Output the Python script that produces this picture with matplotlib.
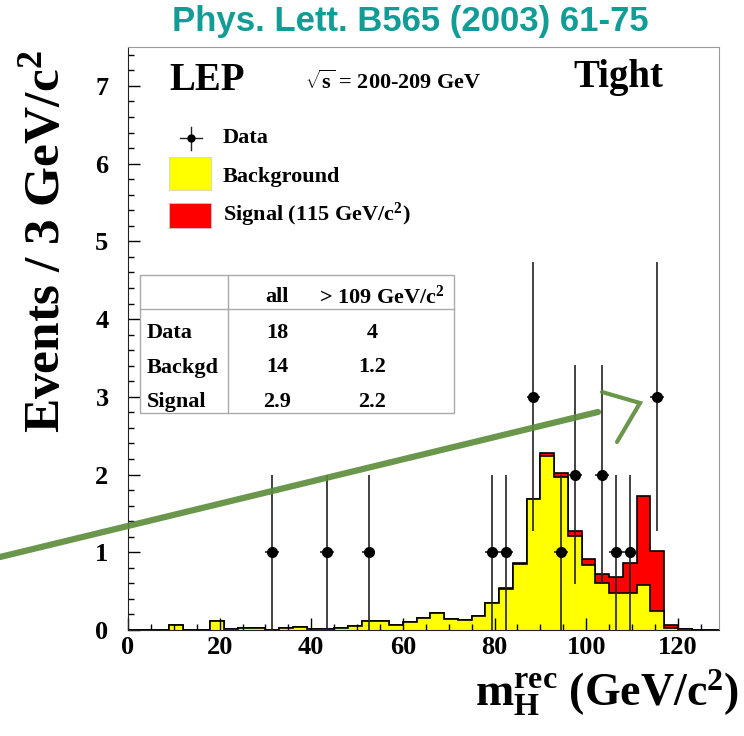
import numpy as np
import matplotlib
matplotlib.use("Agg")
import matplotlib.pyplot as plt
from matplotlib.lines import Line2D
from matplotlib.patches import Rectangle
from matplotlib.ticker import MultipleLocator

plt.rcParams['font.family'] = ['Liberation Serif', 'DejaVu Serif']
plt.rcParams['font.weight'] = 'bold'
plt.rcParams['mathtext.fontset'] = 'custom'
plt.rcParams['mathtext.rm'] = 'Liberation Serif:bold'
plt.rcParams['mathtext.bf'] = 'Liberation Serif:bold'
plt.rcParams['mathtext.it'] = 'Liberation Serif:bold'

# 3 GeV bins from 0 to 129 GeV/c^2
bin_edges = np.arange(0, 130, 3)
background = [0, 0, 0, 0.06, 0.005, 0.005, 0.11, 0.01, 0.03, 0.02,
              0.005, 0.03, 0.04, 0.01, 0.015, 0.03, 0.05, 0.11, 0.11, 0.06,
              0.10, 0.15, 0.22, 0.14, 0.13, 0.18, 0.35, 0.53, 0.85, 1.68,
              2.24, 1.97, 1.21, 0.83, 0.60, 0.48, 0.48, 0.58, 0.24, 0.02,
              0.01, 0.005, 0.0]
signal = [0, 0, 0, 0, 0, 0, 0, 0, 0, 0,
          0, 0, 0, 0, 0, 0, 0, 0, 0, 0,
          0, 0, 0, 0, 0, 0, 0, 0.005, 0.01, 0.01,
          0.04, 0.05, 0.06, 0.08, 0.12, 0.20, 0.38, 1.14, 0.78, 0.04,
          0, 0, 0]

data_mass = [31.5, 43.5, 52.5, 79.5, 82.5, 88.5, 94.5, 97.5, 103.5, 106.5, 109.5, 115.5]
data_counts = [1, 1, 1, 1, 1, 3, 1, 2, 2, 1, 1, 3]

table_rows = ["Data", "Backgd", "Signal"]
table_all = ["18", "14", "2.9"]
table_high = ["4", "1.2", "2.2"]

W, H = 744, 736


def fx(px):
    return px / W


def fy(py):
    return 1 - py / H


fig = plt.figure(figsize=(W / 100, H / 100), dpi=100)
ax = fig.add_axes([fx(128), fy(630), (719 - 128) / W, (630 - 47) / H])

bg = np.array(background)
total = bg + np.array(signal)
ax.stairs(total, bin_edges, fill=True, color='#ff0000', lw=0)
ax.stairs(total, bin_edges, color='black', lw=1.2)
ax.stairs(bg, bin_edges, fill=True, color='#ffff00', lw=0)
ax.stairs(bg, bin_edges, color='black', lw=1.2)

n = np.array(data_counts, dtype=float)
err = np.sqrt(n)
ax.errorbar(data_mass, n, yerr=[np.minimum(err, n), err], xerr=1.5, fmt='o',
            color='black', ecolor='#222222', ms=7, elinewidth=1.2, capsize=0, zorder=5)

ax.set_xlim(0, 129)
ax.set_ylim(0, 7.5)
ax.xaxis.set_major_locator(MultipleLocator(20))
ax.xaxis.set_minor_locator(MultipleLocator(5))
ax.yaxis.set_major_locator(MultipleLocator(1))
ax.yaxis.set_minor_locator(MultipleLocator(0.2))
ax.tick_params(which='both', direction='in', labelsize=19)
ax.tick_params(which='major', length=8.5, width=1)
ax.tick_params(which='minor', length=4.3, width=1)
ax.tick_params(axis='y', pad=14)
ax.tick_params(axis='x', pad=4)
for lab in ax.get_xticklabels() + ax.get_yticklabels():
    lab.set_fontweight('bold')
for side in ['top', 'right']:
    ax.spines[side].set_color('#999999')
for side in ['left', 'bottom']:
    ax.spines[side].set_color('#222222')

# texts inside the frame
fig.text(fx(169), fy(80), "LEP", fontsize=28, va='center', ha='left')
fig.text(fx(305), fy(82), r"$\sqrt{s}$ = 200-209 GeV", fontsize=16, va='center', ha='left')
fig.text(fx(573), fy(78), "Tight", fontsize=28, va='center', ha='left')

# legend
fig.add_artist(Line2D([fx(180), fx(202)], [fy(138), fy(138)], color='#222222', lw=1))
fig.add_artist(Line2D([fx(191), fx(191)], [fy(127), fy(150)], color='#222222', lw=1))
fig.add_artist(Line2D([fx(191)], [fy(138)], marker='o', ms=5, color='black'))
fig.add_artist(Rectangle((fx(169), fy(190)), 42 / W, 33 / H, transform=fig.transFigure,
                         facecolor='#ffff00', edgecolor='#cccccc', lw=0.5))
fig.add_artist(Rectangle((fx(169), fy(228)), 42 / W, 25 / H, transform=fig.transFigure,
                         facecolor='#ff0000', edgecolor='#cccccc', lw=0.5))
fig.text(fx(223), fy(138), "Data", fontsize=16, va='center', ha='left')
fig.text(fx(223), fy(177), "Background", fontsize=16, va='center', ha='left')
fig.text(fx(223), fy(215), r"Signal (115 GeV/c$^{2}$)", fontsize=16, va='center', ha='left')

# summary table
fig.add_artist(Rectangle((fx(140), fy(413)), (454 - 140) / W, (413 - 275) / H,
                         transform=fig.transFigure, facecolor='white',
                         edgecolor='#aaaaaa', lw=1))
fig.add_artist(Line2D([fx(228), fx(228)], [fy(275), fy(413)], color='#aaaaaa', lw=1))
fig.add_artist(Line2D([fx(140), fx(454)], [fy(309), fy(309)], color='#aaaaaa', lw=1))
fig.text(fx(277), fy(297), "all", fontsize=16, va='center', ha='center')
fig.text(fx(382), fy(297), r"> 109 GeV/c$^{2}$", fontsize=16, va='center', ha='center')
for i, (row, a, h) in enumerate(zip(table_rows, table_all, table_high)):
    y = fy(333 + 34.5 * i)
    fig.text(fx(147), y, row, fontsize=16, va='center', ha='left')
    fig.text(fx(277), y, a, fontsize=16, va='center', ha='center')
    fig.text(fx(372), y, h, fontsize=16, va='center', ha='center')

# axis titles
fig.text(fx(47), fy(242), r"Events / 3 GeV/c$^{2}$", fontsize=37, rotation=90,
         va='center', ha='center')
fig.text(fx(739), fy(706), r"m$_{\mathrm{H}}^{\mathrm{rec}}$ (GeV/c$^{2}$)", fontsize=33,
         va='baseline', ha='right')

# journal reference
fig.text(fx(410), fy(21), "Phys. Lett. B565 (2003) 61-75", fontsize=25, color='#129c96',
         family='Liberation Sans', fontweight='bold', va='center', ha='center')

# hand-drawn green arrow
green = '#5b8c3a'
fig.add_artist(Line2D([fx(0), fx(598)], [fy(557), fy(412)], color=green, lw=4.5, alpha=0.9,
                      solid_capstyle='round'))
fig.add_artist(Line2D([fx(602), fx(640), fx(617)], [fy(392), fy(403), fy(442)], color=green,
                      lw=3, alpha=0.9, solid_capstyle='round', solid_joinstyle='miter'))

fig.savefig("out.png", dpi=100)
